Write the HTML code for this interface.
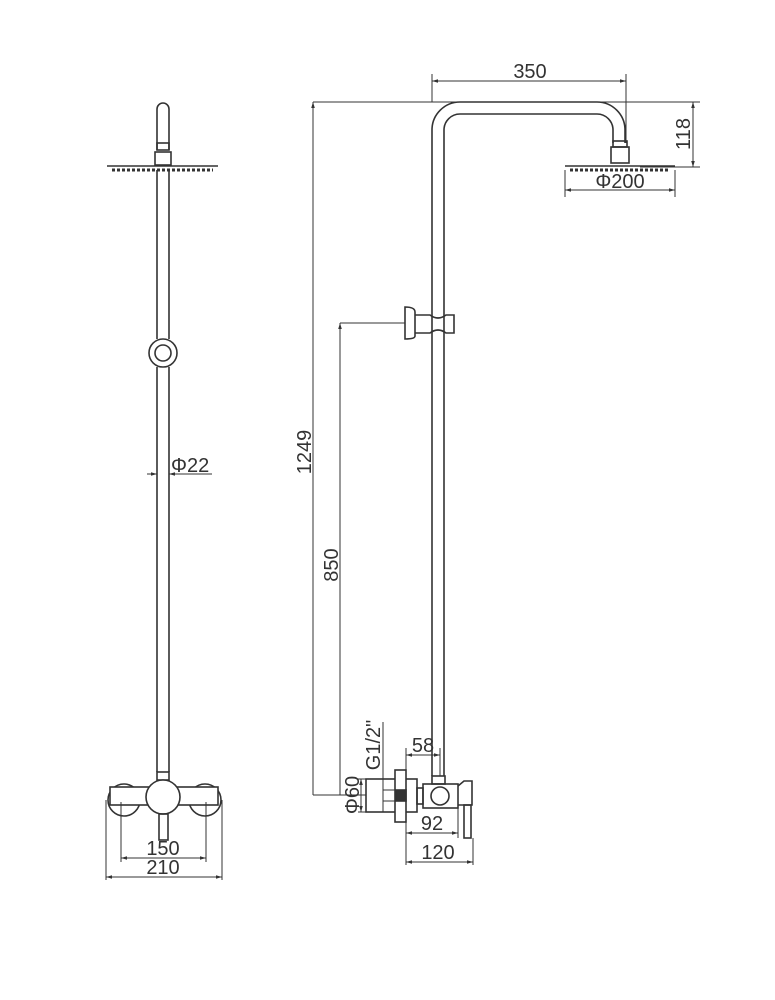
<!DOCTYPE html>
<html><head><meta charset="utf-8"><style>
html,body{margin:0;padding:0;background:#fff}
svg{display:block}
text{font-family:"Liberation Sans",sans-serif;fill:#333;font-size:20px}
</style></head><body>
<svg width="775" height="1000" viewBox="0 0 775 1000" xmlns="http://www.w3.org/2000/svg">
<defs>
<marker id="a" viewBox="0 0 10 10" refX="10" refY="5" markerWidth="6" markerHeight="6" orient="auto-start-reverse"><path d="M0,2 L10,5 L0,8z" fill="#333"/></marker>
</defs>
<g fill="none" stroke="#333" stroke-width="1.6">
<!-- LEFT VIEW -->
<path d="M157,150 V109 A6,6 0 0 1 169,109 V150"/>
<rect x="157" y="143" width="12" height="7"/>
<rect x="155" y="152" width="16" height="13"/>
<path d="M107,166 H218"/>
<path d="M112,170 H213" stroke-width="3" stroke-dasharray="3,2"/>
<path d="M157,170 V339 M169,170 V339 M157,367 V772 M169,772 V367"/>
<circle cx="163" cy="353" r="14"/>
<circle cx="163" cy="353" r="8"/>
<rect x="157" y="772" width="12" height="8"/>
<circle cx="124" cy="800" r="16"/>
<circle cx="205" cy="800" r="16"/>
<rect x="110" y="787" width="108" height="18" fill="#fff"/>
<circle cx="163" cy="797" r="17" fill="#fff"/>
<rect x="159" y="814" width="9" height="26"/>
<!-- RIGHT VIEW pipe -->
<path d="M432,776 V130 A28,28 0 0 1 460,102 H597 A28,28 0 0 1 625,130 V143"/>
<path d="M444,776 V130 A16,16 0 0 1 460,114 H597 A16,16 0 0 1 613,130 V143"/>
<rect x="613" y="141" width="14" height="6"/>
<rect x="611" y="147" width="18" height="16"/>
<path d="M565,166 H675"/>
<path d="M570,170 H670" stroke-width="3" stroke-dasharray="3,2"/>
<!-- slider -->
<path d="M405,307 Q415,307 415,312 V336 Q415,339 405,339 Z" fill="#fff"/>
<path d="M415,315 H430 Q438,321 446,315 H454 V333 H446 Q438,327 430,333 H415"/>
<!-- valve -->
<rect x="366" y="779" width="51" height="33" fill="#fff"/>
<rect x="395" y="770" width="11" height="52" fill="#fff"/>
<rect x="396" y="790" width="10" height="11" fill="#333"/>
<rect x="417" y="788" width="6" height="16"/>
<rect x="432" y="776" width="13" height="8"/>
<rect x="423" y="784" width="35" height="24"/>
<circle cx="440" cy="796" r="9"/>
<path d="M458,786 L464,781 H472 V805 H458"/>
<rect x="464" y="805" width="7" height="33"/>
</g>
<!-- dimensions -->
<g fill="none" stroke="#333" stroke-width="1">
<path d="M169,474 H212" />
<path d="M147,474 H157" marker-end="url(#a)"/>
<path d="M180,474 H169" marker-end="url(#a)"/>
<path d="M121,802 V862 M206,802 V862 M106,800 V880 M222,800 V880"/>
<path d="M121,858 H206" marker-start="url(#a)" marker-end="url(#a)"/>
<path d="M106,877 H222" marker-start="url(#a)" marker-end="url(#a)"/>
<path d="M432,74 V102 M626,74 V143"/>
<path d="M432,81 H626" marker-start="url(#a)" marker-end="url(#a)"/>
<path d="M313,102 H700 M640,167 H700"/>
<path d="M693,102 V167" marker-start="url(#a)" marker-end="url(#a)"/>
<path d="M565,170 V197 M675,170 V197"/>
<path d="M565,190 H675" marker-start="url(#a)" marker-end="url(#a)"/>
<path d="M313,102 V795" marker-start="url(#a)"/>
<path d="M340,323 H405"/>
<path d="M340,323 V795" marker-start="url(#a)"/>
<path d="M313,795 H366"/>
<path d="M366,779 H358 M366,812 H358"/>
<path d="M361,779 V812" marker-start="url(#a)" marker-end="url(#a)"/>
<path d="M383,722 V812 M383,790 H395 M383,801 H395"/>
<path d="M406,748 V865 M440,748 V776 M458,808 V838 M473,838 V865"/>
<path d="M406,755 H440" marker-start="url(#a)" marker-end="url(#a)"/>
<path d="M406,833 H458" marker-start="url(#a)" marker-end="url(#a)"/>
<path d="M406,862 H473" marker-start="url(#a)" marker-end="url(#a)"/>
</g>
<text x="171" y="472">Φ22</text>
<text x="163" y="855" text-anchor="middle">150</text>
<text x="163" y="874" text-anchor="middle">210</text>
<text x="530" y="78" text-anchor="middle">350</text>
<text x="620" y="188" text-anchor="middle">Φ200</text>
<text transform="translate(690,134) rotate(-90)" text-anchor="middle">118</text>
<text transform="translate(311,452) rotate(-90)" text-anchor="middle">1249</text>
<text transform="translate(338,565) rotate(-90)" text-anchor="middle">850</text>
<text transform="translate(380,745) rotate(-90)" text-anchor="middle">G1/2"</text>
<text transform="translate(359,795) rotate(-90)" text-anchor="middle">Φ60</text>
<text x="423" y="752" text-anchor="middle">58</text>
<text x="432" y="830" text-anchor="middle">92</text>
<text x="438" y="859" text-anchor="middle">120</text>
</svg>
</body></html>
